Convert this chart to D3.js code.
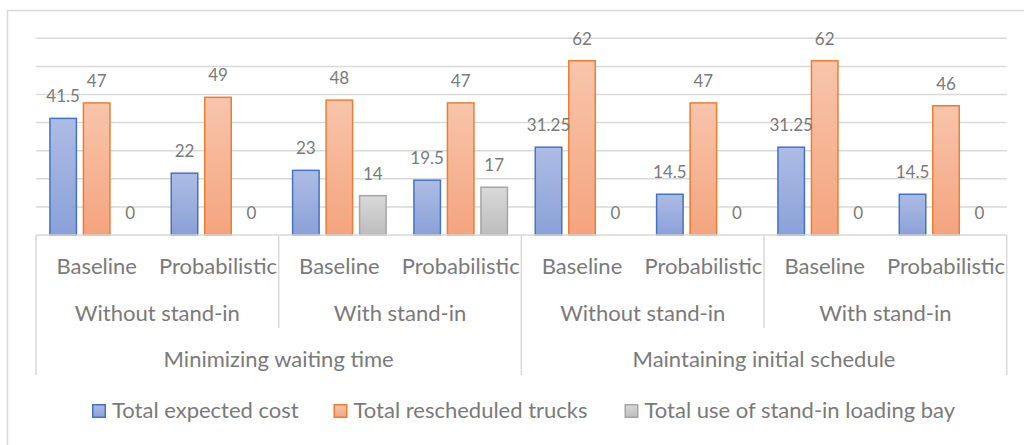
<!DOCTYPE html>
<html>
<head>
<meta charset="utf-8">
<script src="https://cdn.jsdelivr.net/npm/d3@7"></script>
<style>
  html, body { margin: 0; padding: 0; background: #fff; }
  svg { display: block; }
  text { font-family: Lato, "Open Sans", sans-serif; fill: #7a7a7a; }
</style>
</head>
<body>
<svg id="chart" width="1024" height="445"></svg>
<script>
// Scenario labels, one per cluster of bars (three-level category axis)
const methods = ["Baseline", "Probabilistic", "Baseline", "Probabilistic",
                 "Baseline", "Probabilistic", "Baseline", "Probabilistic"];
const standIn = ["Without stand-in", "With stand-in", "Without stand-in", "With stand-in"];
const objectives = ["Minimizing waiting time", "Maintaining initial schedule"];

// Series
const seriesNames = ["Total expected cost", "Total rescheduled trucks", "Total use of stand-in loading bay"];
const expectedCost = [41.5, 22, 23, 19.5, 31.25, 14.5, 31.25, 14.5];
const rescheduledTrucks = [47, 49, 48, 47, 62, 47, 62, 46];
const standInUse = [0, 0, 14, 17, 0, 0, 0, 0];

// Value axis gridlines (no labels drawn)
const gridTicks = [0, 10, 20, 30, 40, 50, 60, 70];

const seriesValues = [expectedCost, rescheduledTrucks, standInUse];
const colors = [
  { stroke: "#4472c4", top: "#adbce4", bottom: "#8aa1d8" },
  { stroke: "#ed7d31", top: "#f8c5ab", bottom: "#f4a47e" },
  { stroke: "#a5a5a5", top: "#d9d9d9", bottom: "#bdbdbd" }
];

const svg = d3.select("#chart");
const plot = { left: 36, right: 1006.7, top: 38.3, bottom: 235 };

// Outer chart border
svg.append("rect")
  .attr("x", 7.5).attr("y", 10.5)
  .attr("width", 1040).attr("height", 460)
  .attr("fill", "#fff").attr("stroke", "#d9d9d9").attr("stroke-width", 1.5);

// Gradients for bar fills
const defs = svg.append("defs");
colors.forEach((c, i) => {
  const g = defs.append("linearGradient")
    .attr("id", "grad" + i).attr("x1", 0).attr("y1", 0).attr("x2", 0).attr("y2", 1);
  g.append("stop").attr("offset", "0%").attr("stop-color", c.top);
  g.append("stop").attr("offset", "100%").attr("stop-color", c.bottom);
});

const idx = d3.range(methods.length);
const x0 = d3.scaleBand().domain(idx).range([plot.left, plot.right]).padding(0);
const x1 = d3.scaleBand().domain(d3.range(seriesNames.length))
  .range([0, x0.bandwidth()]).paddingInner(0.164).paddingOuter(0.393);
const y = d3.scaleLinear().domain([0, 70]).range([plot.bottom, plot.top]);

// Gridlines
svg.append("g").selectAll("line").data(gridTicks.filter(t => t > 0)).join("line")
  .attr("x1", plot.left).attr("x2", plot.right)
  .attr("y1", d => y(d)).attr("y2", d => y(d))
  .attr("stroke", "#d9d9d9").attr("stroke-width", 1.5);

// Bars
const groups = svg.append("g").selectAll("g").data(idx).join("g")
  .attr("transform", d => `translate(${x0(d)},0)`);

groups.selectAll("rect")
  .data(i => seriesValues.map((vals, s) => ({ s, v: vals[i] })).filter(d => d.v > 0))
  .join("rect")
  .attr("x", d => x1(d.s) + 0.75)
  .attr("width", x1.bandwidth() - 1.5)
  .attr("y", d => y(d.v))
  .attr("height", d => y(0) - y(d.v))
  .attr("fill", d => `url(#grad${d.s})`)
  .attr("stroke", d => colors[d.s].stroke)
  .attr("stroke-width", 1.5);

// Data labels
groups.selectAll("text")
  .data(i => seriesValues.map((vals, s) => ({ s, v: vals[i] })))
  .join("text")
  .attr("x", d => x1(d.s) + x1.bandwidth() / 2)
  .attr("y", d => y(d.v) - 16)
  .attr("text-anchor", "middle")
  .attr("font-size", 17)
  .text(d => d.v);

// Category axis: baseline and separators
const axis = svg.append("g").attr("stroke", "#d9d9d9").attr("stroke-width", 1.5);
axis.append("line").attr("x1", plot.left).attr("x2", plot.right)
  .attr("y1", plot.bottom).attr("y2", plot.bottom);

const xb = i => x0(i);
const endX = plot.right;
// Outer/objective separators run through all three label rows
[0, 4].map(xb).concat([endX]).forEach(xx => {
  axis.append("line").attr("x1", xx).attr("x2", xx).attr("y1", plot.bottom).attr("y2", 375);
});
// Stand-in separators run through the first two rows
[2, 6].map(xb).forEach(xx => {
  axis.append("line").attr("x1", xx).attr("x2", xx).attr("y1", plot.bottom).attr("y2", 328);
});

// Row 1: method
svg.append("g").selectAll("text").data(idx).join("text")
  .attr("x", i => x0(i) + x0.bandwidth() / 2)
  .attr("y", 274)
  .attr("text-anchor", "middle").attr("font-size", 22)
  .text(i => methods[i]);

// Row 2: stand-in
svg.append("g").selectAll("text").data(standIn).join("text")
  .attr("x", (d, j) => x0(j * 2) + x0.bandwidth())
  .attr("y", 320.7)
  .attr("text-anchor", "middle").attr("font-size", 22)
  .text(d => d);

// Row 3: objective
svg.append("g").selectAll("text").data(objectives).join("text")
  .attr("x", (d, j) => x0(j * 4) + x0.bandwidth() * 2)
  .attr("y", 366.7)
  .attr("text-anchor", "middle").attr("font-size", 22)
  .text(d => d);

// Legend
const legendX = [92, 333.5, 624.5];
const legend = svg.append("g").selectAll("g").data(seriesNames).join("g")
  .attr("transform", (d, i) => `translate(${legendX[i]},404)`);
legend.append("rect")
  .attr("x", 0.75).attr("y", 0.75).attr("width", 12.5).attr("height", 12.5)
  .attr("fill", (d, i) => `url(#grad${i})`)
  .attr("stroke", (d, i) => colors[i].stroke).attr("stroke-width", 1.5);
legend.append("text")
  .attr("x", 20).attr("y", 13.7)
  .attr("font-size", 22)
  .text(d => d);
</script>
</body>
</html>
